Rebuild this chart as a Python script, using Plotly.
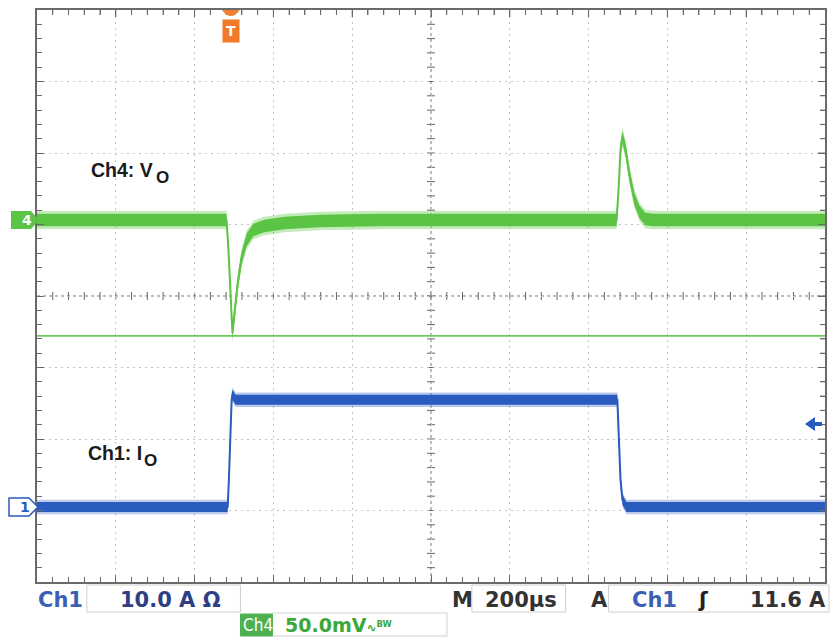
import plotly.graph_objects as go

# ---------------- data ----------------
# Ch4: output voltage V_O, AC coupled, mV
t_ch4 = [0, 481, 486, 491, 496, 501, 509, 519, 532, 549, 577, 628, 716, 868,
         1471, 1476, 1481, 1486, 1494, 1504, 1516, 1529, 1544, 1564, 2000]
v_ch4 = [0, 0, -21, -56, -79, -66, -45, -27, -14, -7, -4.2, -2.1, -0.7, 0,
         0, 21, 49, 58, 49, 31, 15, 5.6, 0.7, 0, 0]
# Ch1: output current I_O, A
t_ch1 = [0, 484, 487, 491, 494, 496, 504, 1473, 1477, 1481, 1486, 1496, 2000]
i_ch1 = [0, 0, 3.8, 10.8, 15.0, 15.7, 15.0, 15.0, 9.4, 3.8, 1.0, 0, 0]

ch4_cursor_mv = -81          # horizontal green reference line
trigger_level_a = 11.6       # trigger level (Ch1)
trigger_time_us = 492        # trigger position marker
time_per_div = 200           # µs/div
ch1_per_div = 10.0           # A/div
ch4_per_div = 50.0           # mV/div
ch1_offset_div = 1.049       # divisions from bottom to Ch1 zero
ch4_offset_div = 5.063       # divisions from bottom to Ch4 zero

# band half-widths (trace thickness of noisy scope traces)
ch4_band = 4.3
ch4_halo = 6.5
ch1_band = 0.7
ch1_halo = 1.0

GREEN = "#5cc444"
GREEN_LIGHT = "rgba(110,205,90,0.40)"
BLUE = "#2a5bbf"
BLUE_LIGHT = "rgba(60,100,200,0.35)"

W, H = 831, 637
L, R, T, B = 37, 827, 10, 582


def px(xp):
    return (xp - L) / (R - L)


def py(yp):
    return (B - yp) / (B - T)


fig = go.Figure()


def band(t, v, half, color, yaxis):
    up = [a + half for a in v]
    lo = [a - half for a in v]
    fig.add_trace(go.Scatter(x=t, y=up, mode="lines", line=dict(width=0, color=color),
                             yaxis=yaxis, hoverinfo="skip", showlegend=False))
    fig.add_trace(go.Scatter(x=t, y=lo, mode="lines", line=dict(width=0, color=color),
                             fill="tonexty", fillcolor=color, yaxis=yaxis,
                             hoverinfo="skip", showlegend=False))


# Ch4 trace
band(t_ch4, v_ch4, ch4_halo, GREEN_LIGHT, "y3")
band(t_ch4, v_ch4, ch4_band, GREEN, "y3")
fig.add_trace(go.Scatter(x=t_ch4, y=v_ch4, mode="lines", line=dict(width=2, color=GREEN),
                         yaxis="y3", name="Ch4: V_O", showlegend=False))
# Ch1 trace
band(t_ch1, i_ch1, ch1_halo, BLUE_LIGHT, "y2")
band(t_ch1, i_ch1, ch1_band, BLUE, "y2")
fig.add_trace(go.Scatter(x=t_ch1, y=i_ch1, mode="lines", line=dict(width=2, color=BLUE),
                         yaxis="y2", name="Ch1: I_O", showlegend=False))

FRAME = "#6a6a6a"
GRID = "#c2c2c2"

shapes = []
# horizontal Ch4 reference line
shapes.append(dict(type="line", xref="paper", x0=0, x1=1, yref="y3",
                   y0=ch4_cursor_mv, y1=ch4_cursor_mv, line=dict(color="#6ccc5a", width=1.6)))
# center cross
shapes.append(dict(type="line", xref="paper", x0=0, x1=1, yref="paper", y0=0.5, y1=0.5,
                   line=dict(color="#777", width=1, dash="dot"), layer="below"))
shapes.append(dict(type="line", xref="paper", x0=0.5, x1=0.5, yref="paper", y0=0, y1=1,
                   line=dict(color="#777", width=1, dash="dot"), layer="below"))
for k in range(1, 50):
    xk = k * time_per_div / 5
    shapes.append(dict(type="line", xref="x", x0=xk, x1=xk,
                       yref="paper", ysizemode="pixel", yanchor=0.5, y0=-4, y1=4,
                       line=dict(color="#666", width=1), layer="below"))
    # top frame ticks
    shapes.append(dict(type="line", xref="x", x0=xk, x1=xk,
                       yref="paper", ysizemode="pixel", yanchor=1, y0=0, y1=-5 if k % 5 else -7,
                       line=dict(color=FRAME, width=1), layer="below"))
for k in range(1, 40):
    yk = k / 5
    shapes.append(dict(type="line", yref="y", y0=yk, y1=yk,
                       xref="paper", xsizemode="pixel", xanchor=0.5, x0=-4, x1=4,
                       line=dict(color="#666", width=1), layer="below"))
    # right frame ticks
    shapes.append(dict(type="line", yref="y", y0=yk, y1=yk,
                       xref="paper", xsizemode="pixel", xanchor=1, x0=0, x1=-5 if k % 5 else -7,
                       line=dict(color=FRAME, width=1), layer="below"))

# channel ground markers on the left
shapes.append(dict(type="path", xref="paper", yref="y3", xsizemode="pixel", ysizemode="pixel",
                   xanchor=0, yanchor=0, path="M -26 -9 L -6 -9 L 2 0 L -6 9 L -26 9 Z",
                   fillcolor=GREEN, line=dict(width=0)))
shapes.append(dict(type="path", xref="paper", yref="y2", xsizemode="pixel", ysizemode="pixel",
                   xanchor=0, yanchor=0, path="M -28 -9 L -8 -9 L 1 0 L -8 9 L -28 9 Z",
                   fillcolor="white", line=dict(width=1.5, color=BLUE)))
# trigger level arrow (right edge)
shapes.append(dict(type="path", xref="paper", yref="y2", xsizemode="pixel", ysizemode="pixel",
                   xanchor=1, yanchor=trigger_level_a,
                   path="M -20 0 L -10 7 L -10 2 L -3 2 L -3 -2 L -10 -2 L -10 -7 Z",
                   fillcolor=BLUE, line=dict(width=0)))

# status bar boxes
BOX = "#cfcfcf"


def rect(x0, x1, y0, y1, fill=None, line=BOX):
    shapes.append(dict(type="rect", xref="paper", yref="paper", x0=px(x0), x1=px(x1),
                       y0=py(y1), y1=py(y0), line=dict(color=line, width=1),
                       fillcolor=fill if fill else "rgba(0,0,0,0)"))


rect(87, 241, 585, 612)
rect(473, 567, 585, 612)
rect(610, 831, 585, 612)
rect(273, 448, 613, 636)
rect(241, 273, 614, 636, fill="#4fb04f", line="#4fb04f")

# trigger marker bump on top
shapes.append(dict(type="path", xref="x", yref="paper", xsizemode="pixel", ysizemode="pixel",
                   xanchor=trigger_time_us, yanchor=1,
                   path="M -9 0 Q 0 -12 9 0 Z", fillcolor="#f08030", line=dict(width=0)))

fig.update_layout(shapes=shapes)

ann = []
LBL = dict(family="Liberation Sans, Arial, sans-serif", size=19.5, color="#1a1a1a")
SUB = dict(family="Liberation Sans, Arial, sans-serif", size=17, color="#1a1a1a")


def label(text, x, y, font):
    ann.append(dict(text="<b>" + text + "</b>", xref="paper", yref="paper", x=px(x), y=py(y),
                    xanchor="left", yanchor="middle", showarrow=False, font=font))


label("Ch4: V", 89, 170, LBL)
label("O", 154, 177, SUB)
label("Ch1: I", 86, 453, LBL)
label("O", 142, 460, SUB)

# marker labels
ann.append(dict(text="<b>4</b>", xref="paper", yref="y3", x=0, y=0, xshift=-17,
                showarrow=False, font=dict(family="DejaVu Sans", size=14, color="white")))
ann.append(dict(text="<b>1</b>", xref="paper", yref="y2", x=0, y=0, xshift=-19,
                showarrow=False, font=dict(family="DejaVu Sans", size=14, color=BLUE)))
# trigger T
ann.append(dict(text="<b>T</b>", xref="x", yref="paper", x=trigger_time_us, y=py(19),
                yanchor="top", showarrow=False, bgcolor="#f07a2a", borderpad=3,
                font=dict(family="DejaVu Sans", size=14, color="white")))

SB = "DejaVu Sans, sans-serif"
SBC = "DejaVu Sans Condensed, DejaVu Sans, sans-serif"


def stxt(text, x, y, color, size=21, anchor="left", fam=SB, bold=True):
    ann.append(dict(text=("<b>%s</b>" % text) if bold else text, xref="paper", yref="paper",
                    x=px(x), y=py(y), xanchor=anchor, yanchor="middle", showarrow=False,
                    font=dict(family=fam, size=size, color=color)))


stxt("Ch1", 36, 600, "#3a5fb5")
stxt("10.0 A \u03a9", 118, 600, "#2e3f86")
stxt("M", 451, 600, "#333")
stxt("200\u00b5s", 484, 600, "#333")
stxt("A", 590, 600, "#333")
stxt("Ch1", 632, 600, "#3a5fb5")
stxt("\u0283", 698, 600, "#222")
stxt("11.6 A", 830, 600, "#333", anchor="right")
stxt("Ch4", 242, 625, "white", size=17, fam=SBC, bold=False)
stxt("50.0mV<span style='font-size:12px'>\u223f<sup>BW</sup></span>", 284, 625, "#3aa83a", size=19)

fig.update_layout(annotations=ann)

fig.update_layout(
    width=W, height=H, margin=dict(l=L, r=W - R, t=T, b=H - B),
    paper_bgcolor="white", plot_bgcolor="white",
    xaxis=dict(range=[0, 10 * time_per_div], tick0=0, dtick=time_per_div,
               showgrid=True, gridcolor=GRID, griddash="2px,4px", gridwidth=1,
               showline=True, linecolor=FRAME, linewidth=2, mirror="ticks",
               ticks="inside", ticklen=7, tickcolor=FRAME, showticklabels=False,
               minor=dict(dtick=time_per_div / 5, ticks="inside", ticklen=5, tickcolor=FRAME,
                          showgrid=False),
               zeroline=False, fixedrange=True),
    yaxis=dict(range=[0, 8], tick0=0, dtick=1,
               showgrid=True, gridcolor=GRID, griddash="2px,4px", gridwidth=1,
               showline=True, linecolor=FRAME, linewidth=2, mirror="ticks",
               ticks="inside", ticklen=7, tickcolor=FRAME, showticklabels=False,
               minor=dict(dtick=0.2, ticks="inside", ticklen=5, tickcolor=FRAME, showgrid=False),
               zeroline=False, fixedrange=True),
    yaxis2=dict(overlaying="y", range=[-ch1_offset_div * ch1_per_div, (8 - ch1_offset_div) * ch1_per_div],
                visible=False, fixedrange=True),
    yaxis3=dict(overlaying="y", range=[-ch4_offset_div * ch4_per_div, (8 - ch4_offset_div) * ch4_per_div],
                visible=False, fixedrange=True),
    showlegend=False,
)

fig.write_html("out.html", config={"displayModeBar": False},
               post_script="document.body.style.margin='0';document.body.style.overflow='hidden';")
